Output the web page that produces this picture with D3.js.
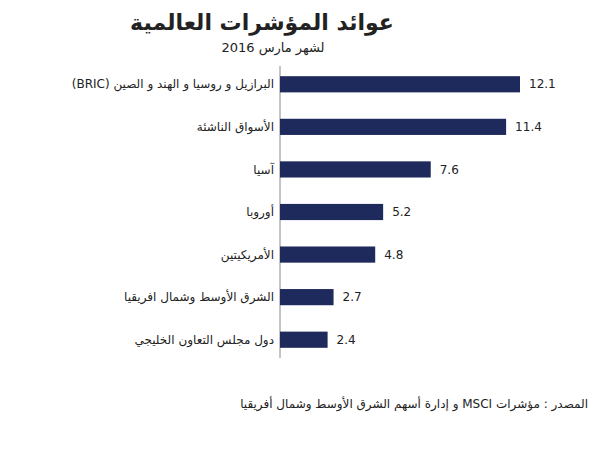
<!DOCTYPE html>
<html><head><meta charset="utf-8">
<script src="https://cdn.jsdelivr.net/npm/d3@7"></script>
<style>body{margin:0;background:#fff}text{font-family:"DejaVu Sans","Noto Sans",sans-serif;fill:#222}</style>
</head><body>
<script>
const categories = ["البرازيل و روسيا و الهند و الصين (BRIC)", "الأسواق الناشئة", "آسيا", "أوروبا", "الأمريكيتين", "الشرق الأوسط وشمال افريقيا", "دول مجلس التعاون الخليجي"];
const values = [12.1, 11.4, 7.6, 5.2, 4.8, 2.7, 2.4];

const svg = d3.select("body").append("svg").attr("width", 604).attr("height", 450);

const x = d3.scaleLinear().domain([0, 12.1]).range([280, 520]);
const y = d3.scaleBand().domain(categories).range([63, 361]).paddingInner(0.62).paddingOuter(0.31);

svg.append("text").attr("x", 262).attr("y", 30).attr("text-anchor", "middle")
    .style("font-size", "22px").style("font-weight", "bold").text("عوائد المؤشرات العالمية");
svg.append("text").attr("x", 273).attr("y", 52).attr("text-anchor", "middle")
    .style("font-size", "13px").text("لشهر مارس 2016");

svg.append("line").attr("x1", 280).attr("x2", 280).attr("y1", 66).attr("y2", 358)
    .attr("stroke", "#888").attr("stroke-width", 1);

svg.selectAll("rect.bar").data(values).join("rect")
    .attr("class", "bar")
    .attr("x", x(0))
    .attr("y", (d, i) => y(categories[i]))
    .attr("width", d => x(d) - x(0))
    .attr("height", y.bandwidth())
    .attr("fill", "#1f2a5c");

svg.selectAll("text.val").data(values).join("text")
    .attr("class", "val")
    .attr("x", d => x(d) + 9)
    .attr("y", (d, i) => y(categories[i]) + y.bandwidth() / 2)
    .attr("dy", "0.35em").style("font-size", "12px")
    .text(d => d.toFixed(1));

svg.selectAll("text.cat").data(categories).join("text")
    .attr("class", "cat")
    .attr("x", 274)
    .attr("y", d => y(d) + y.bandwidth() / 2)
    .attr("dy", "0.35em").attr("direction", "rtl").attr("text-anchor", "start").style("font-size", "12px")
    .text(d => d);

svg.append("text").attr("x", 588).attr("y", 408).attr("text-anchor", "start")
    .style("font-size", "12px").attr("direction", "rtl")
    .text("المصدر : مؤشرات MSCI و إدارة أسهم الشرق الأوسط وشمال أفريقيا");
</script>
</body></html>
